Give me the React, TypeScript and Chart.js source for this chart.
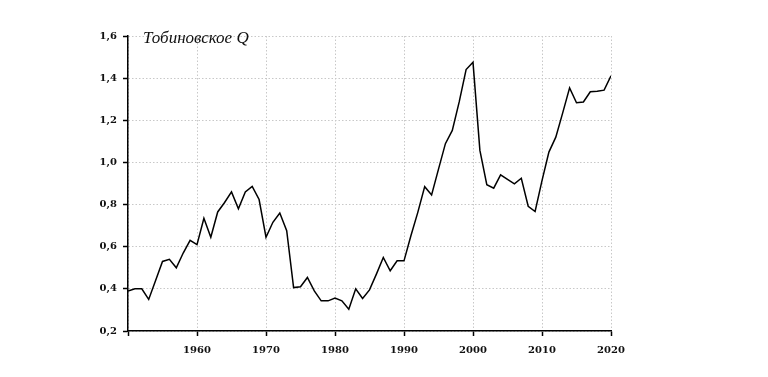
import React, { useEffect, useRef } from "react";
import { Chart, registerables } from "chart.js";

Chart.register(...registerables);

const years: number[] = [
  1950, 1951, 1952, 1953, 1954, 1955, 1956, 1957, 1958, 1959,
  1960, 1961, 1962, 1963, 1964, 1965, 1966, 1967, 1968, 1969,
  1970, 1971, 1972, 1973, 1974, 1975, 1976, 1977, 1978, 1979,
  1980, 1981, 1982, 1983, 1984, 1985, 1986, 1987, 1988, 1989,
  1990, 1991, 1992, 1993, 1994, 1995, 1996, 1997, 1998, 1999,
  2000, 2001, 2002, 2003, 2004, 2005, 2006, 2007, 2008, 2009,
  2010, 2011, 2012, 2013, 2014, 2015, 2016, 2017, 2018, 2019,
  2020,
];

const tobinQ: number[] = [
  0.39, 0.40, 0.40, 0.35, 0.44, 0.53, 0.54, 0.50, 0.57, 0.63,
  0.61, 0.735, 0.645, 0.765, 0.81, 0.86, 0.78, 0.86, 0.886, 0.824,
  0.645, 0.716, 0.76, 0.676, 0.406, 0.41, 0.454, 0.39, 0.343, 0.343,
  0.356, 0.343, 0.303, 0.40, 0.354, 0.395, 0.47, 0.549, 0.486, 0.533,
  0.533, 0.652, 0.763, 0.885, 0.846, 0.968, 1.089, 1.152, 1.287, 1.441,
  1.475, 1.057, 0.894, 0.878, 0.941, 0.919, 0.898, 0.925, 0.792, 0.767,
  0.914, 1.049, 1.12, 1.235, 1.354, 1.283, 1.287, 1.335, 1.338, 1.343,
  1.411,
];

const titleText = "Тобиновское Q";
const yMin = 0.2;
const yMax = 1.6;
const yStep = 0.2;
const xMin = 1950;
const xMax = 2020;
const xStep = 10;

const titlePlugin = {
  id: "innerTitle",
  afterDraw(chart: any) {
    const { ctx, chartArea } = chart;
    ctx.save();
    ctx.font = "italic 17px 'Liberation Serif', serif";
    ctx.fillStyle = "#111";
    ctx.textBaseline = "alphabetic";
    ctx.textAlign = "left";
    ctx.fillText(titleText, chartArea.left + 15, chartArea.top + 7);
    ctx.restore();
  },
};

export default function App() {
  const canvasRef = useRef<HTMLCanvasElement | null>(null);

  useEffect(() => {
    document.body.style.margin = "0";
    const canvas = canvasRef.current;
    if (!canvas) return;
    const tickFont = { family: "'DejaVu Serif', serif", size: 10, weight: "bold" as const };
    const chart = new Chart(canvas, {
      type: "line",
      data: {
        datasets: [
          {
            data: years.map((yr, i) => ({ x: yr, y: tobinQ[i] })),
            borderColor: "#000",
            borderWidth: 1.5,
            pointRadius: 0,
            tension: 0,
            fill: false,
          },
        ],
      },
      plugins: [titlePlugin],
      options: {
        animation: false,
        responsive: false,
        maintainAspectRatio: false,
        layout: { padding: { left: 0, right: 157, top: 36, bottom: 0 } },
        plugins: { legend: { display: false }, tooltip: { enabled: false } },
        scales: {
          x: {
            type: "linear",
            min: xMin,
            max: xMax,
            afterFit: (scale: any) => {
              scale.height = 46;
            },
            ticks: {
              stepSize: xStep,
              color: "#111",
              font: tickFont,
              padding: 8,
              maxRotation: 0,
              callback: (v: any) => (v === xMin ? "" : String(v)),
            },
            grid: {
              color: "#c8c8c8",
              lineWidth: 1,
              tickColor: "#000",
              tickLength: 5,
              tickWidth: 1.5,
              tickBorderDash: [],
            },
            border: { color: "#000", width: 1.5, dash: [1.5, 2] },
          },
          y: {
            min: yMin,
            max: yMax,
            afterFit: (scale: any) => {
              scale.width = 128;
            },
            ticks: {
              stepSize: yStep,
              color: "#111",
              font: tickFont,
              padding: 6,
              callback: (v: any) => Number(v).toFixed(1).replace(".", ","),
            },
            grid: {
              color: "#c8c8c8",
              lineWidth: 1,
              tickColor: "#000",
              tickLength: 5,
              tickWidth: 1.5,
              tickBorderDash: [],
            },
            border: { color: "#000", width: 1.5, dash: [1.5, 2] },
          },
        },
      },
    });
    return () => chart.destroy();
  }, []);

  return (
    <div style={{ width: 768, height: 377 }}>
      <canvas ref={canvasRef} width={768} height={377} style={{ display: "block" }} />
    </div>
  );
}
